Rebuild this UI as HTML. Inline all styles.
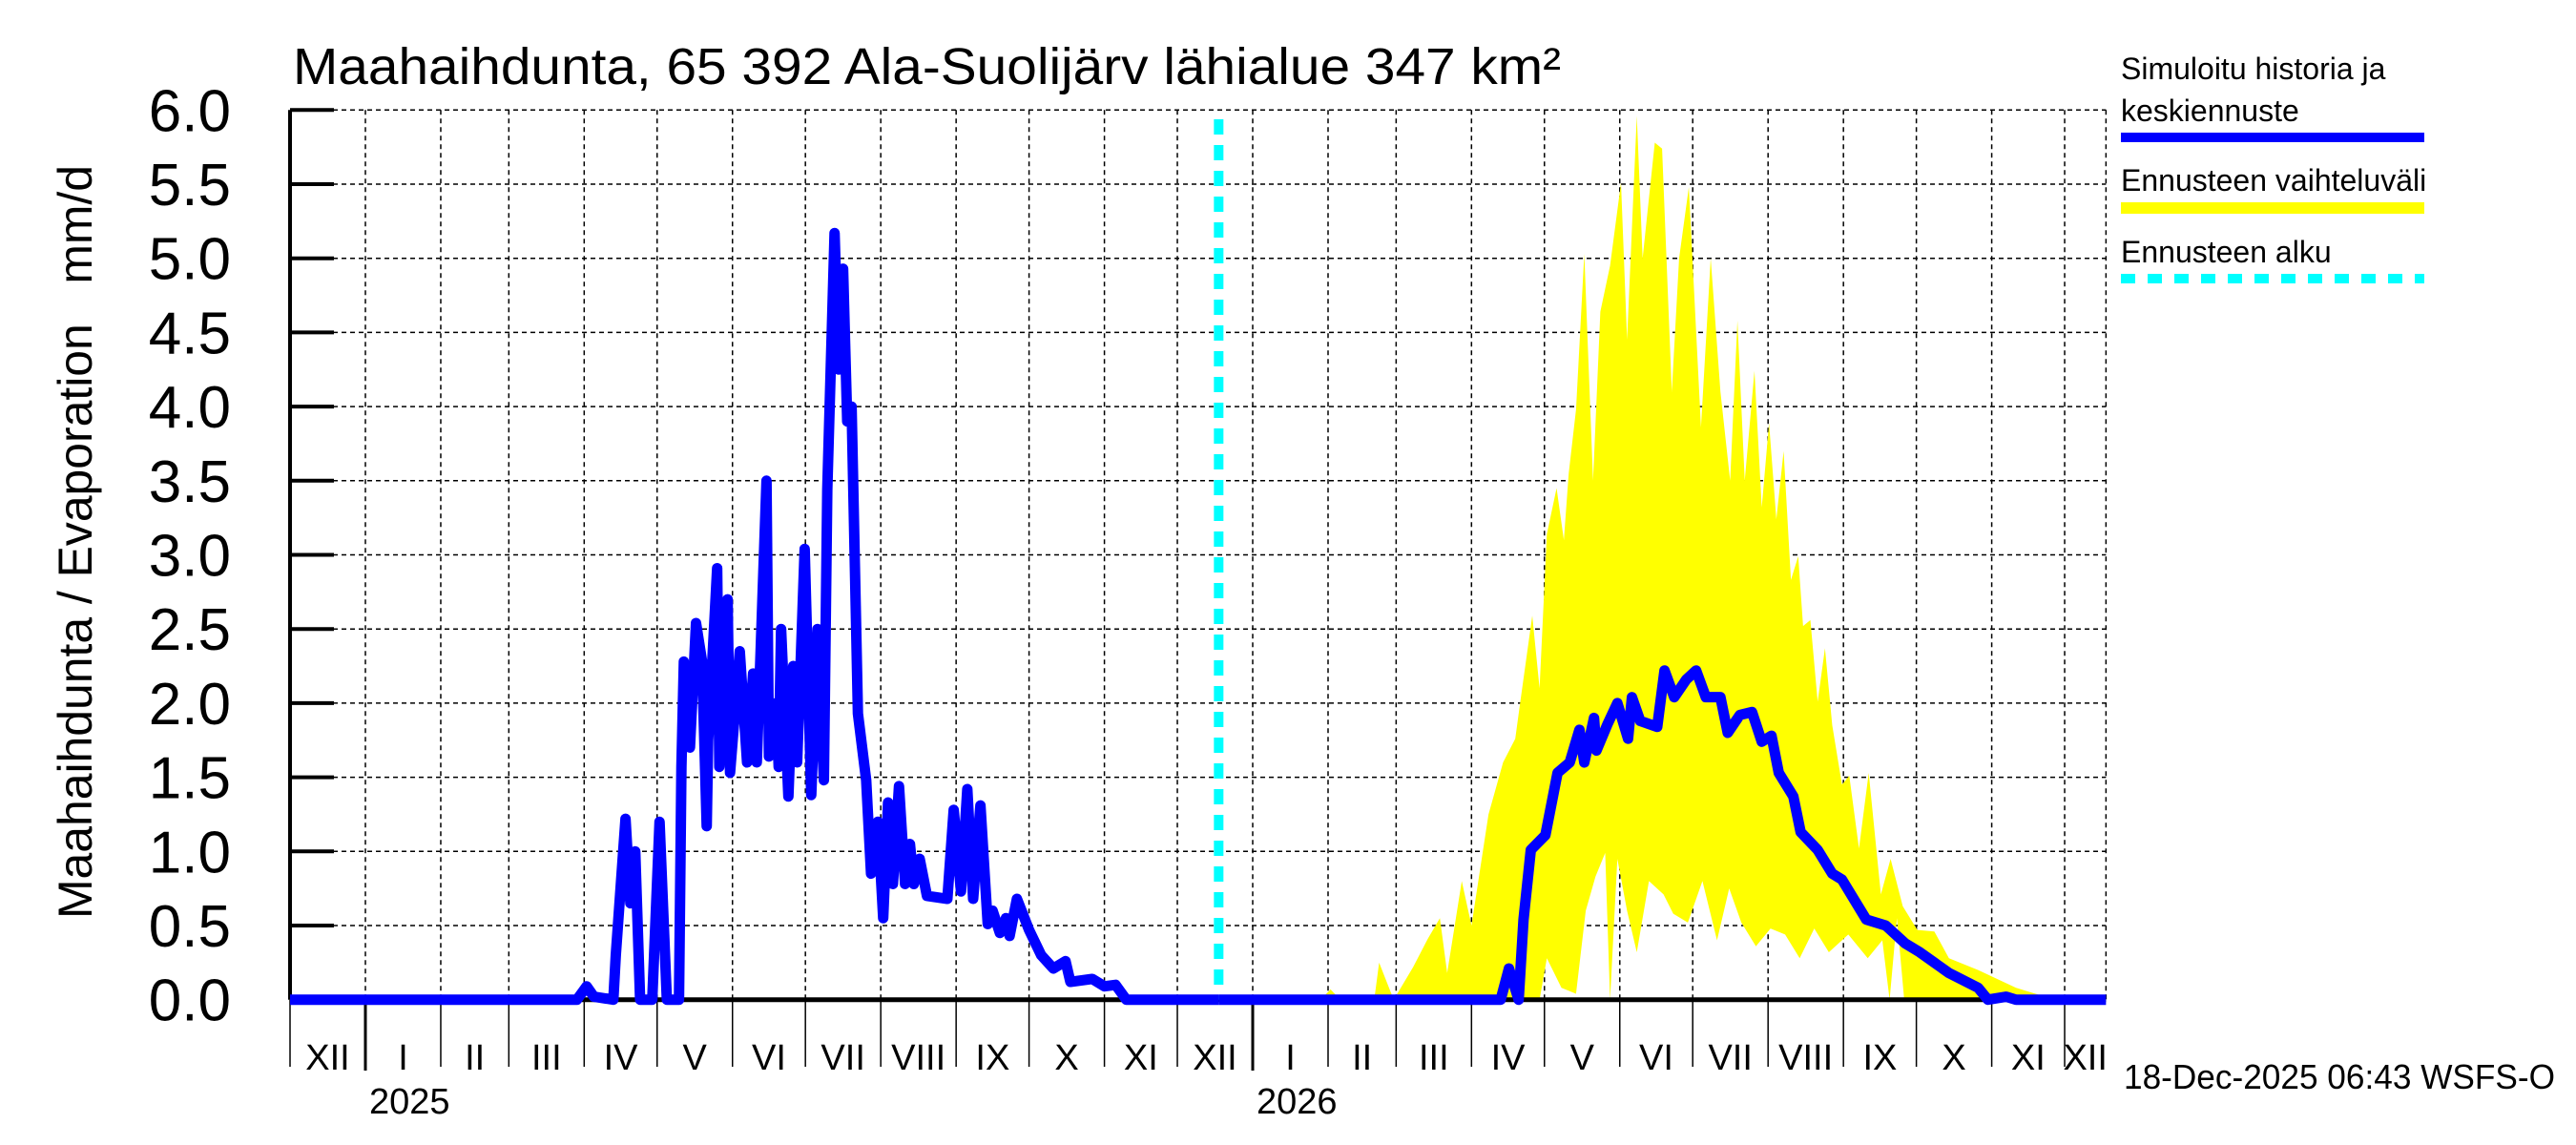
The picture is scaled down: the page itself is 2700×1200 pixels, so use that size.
<!DOCTYPE html>
<html><head><meta charset="utf-8"><style>
body{margin:0;background:#fff}
svg{display:block}
text{font-family:"Liberation Sans",sans-serif;fill:#000;white-space:pre}
</style></head><body>
<svg id="chart" width="2700" height="1200" viewBox="0 0 2700 1200" xmlns="http://www.w3.org/2000/svg">
<rect x="0" y="0" width="2700" height="1200" fill="#fff"/>
<g id="grid"></g>
<g id="band"></g>
<g id="axes"></g>
<g id="lines"></g>
<text x="307" y="88" font-size="54" textLength="1329" lengthAdjust="spacingAndGlyphs">Maahaihdunta, 65 392 Ala-Suolijärv lähialue 347 km²</text>
<text transform="translate(96,568) rotate(-90)" text-anchor="middle" font-size="50" textLength="790" lengthAdjust="spacingAndGlyphs">Maahaihdunta / Evaporation   mm/d</text>
<g>
<text x="2223" y="83" font-size="32">Simuloitu historia ja</text>
<text x="2223" y="127" font-size="32">keskiennuste</text>
<rect x="2223" y="139" width="318" height="10" fill="#0000ff"/>
<text x="2223" y="200" font-size="32">Ennusteen vaihteluväli</text>
<rect x="2223" y="212" width="318" height="12" fill="#ffff00"/>
<text x="2223" y="275" font-size="32">Ennusteen alku</text>
<line x1="2223" y1="292" x2="2541" y2="292" stroke="#00ffff" stroke-width="10" stroke-dasharray="15 13"/>
</g>
<text x="2226" y="1141" font-size="36" textLength="452" lengthAdjust="spacingAndGlyphs">18-Dec-2025 06:43 WSFS-O</text>
</svg>
<script>
const yTicks = [0,0.5,1,1.5,2,2.5,3,3.5,4,4.5,5,5.5,6];
const yTickLabels = ["0.0","0.5","1.0","1.5","2.0","2.5","3.0","3.5","4.0","4.5","5.0","5.5","6.0"];
const monthStarts = [0,31,62,90,121,151,182,212,243,274,304,335,365,396,427,455,486,516,547,577,608,639,669,700,730,747];
const monthLabels = ["XII","I","II","III","IV","V","VI","VII","VIII","IX","X","XI","XII","I","II","III","IV","V","VI","VII","VIII","IX","X","XI","XII"];
const yearDays = [31,396];
const yearLabels = ["2025","2026"];
const forecastStartDay = 382;
const histDays = [0,118,122,125,133,134,138,140,142,144,149,152,155,160,161,162,164.5,167,169.5,171.4,172,175.7,176.6,180,181,185,188,190.5,192,196,197,200,201,202,205,207,208.6,211.7,214.4,217,219.6,221,224,225.7,227.5,229.2,231,233.6,237,239,241.8,244,246,248,250.5,253,255,256.6,259,262,270.4,273,276,278.6,281,284,287,289,292,294.5,296,299,304,309,314,319,321,330,335,339.6,344,382];
const histVals = [0,0,0.09,0.02,0,0.3,1.22,0.65,1.0,0,0,1.2,0,0,1.57,2.28,1.7,2.54,2.28,1.17,1.75,2.91,1.57,2.7,1.53,2.35,1.6,2.2,1.6,3.5,1.64,2.0,1.57,2.5,1.37,2.25,1.6,3.04,1.38,2.5,1.48,3.44,5.17,4.25,4.93,3.9,4.0,1.93,1.48,0.85,1.2,0.55,1.33,0.78,1.44,0.78,1.05,0.78,0.95,0.7,0.68,1.28,0.73,1.42,0.68,1.31,0.51,0.6,0.45,0.55,0.43,0.68,0.47,0.3,0.21,0.26,0.12,0.14,0.09,0.1,0,0];
const medDays = [382,498,501.4,505.4,507.4,510.4,516.4,521.4,526.4,530.4,532.4,536.4,537.4,542,546,550.4,552,555.4,562.4,565.4,569.4,574.4,578.4,582.4,588.4,591.4,596.4,601.4,605.4,609.4,612.4,618.4,621.4,628.4,634.4,638.4,648.4,656.4,664.4,670.4,682.4,694.4,698.4,706,710,747];
const medVals = [0,0,0.21,0,0.54,1.01,1.11,1.53,1.6,1.82,1.6,1.9,1.68,1.86,2.0,1.76,2.04,1.88,1.84,2.22,2.04,2.16,2.22,2.04,2.04,1.8,1.92,1.94,1.74,1.78,1.53,1.37,1.13,1.01,0.85,0.81,0.54,0.5,0.38,0.32,0.18,0.08,0,0.02,0,0];
const maxDays = [382,424,428,432,446,448,454,462,468,473,476,482,486,493,499,504,506,511,514,517,521,524,526,529,532.4,536,539,543,547.5,550,554,556.4,561.4,564.4,568.4,571.4,575.4,580.4,584.4,588.4,592.4,595.4,598.4,602.4,605.4,608.4,611.4,614.4,617.4,620.4,622.4,625.4,628.4,631.4,634.4,638.4,641.4,645.4,649.4,654.4,658.4,663.4,669.4,676.4,682.4,694.4,710,726,747];
const maxVals = [0,0,0.07,0,0,0.25,0,0.22,0.41,0.55,0.18,0.8,0.5,1.25,1.6,1.76,2.0,2.59,2.1,3.14,3.45,3.1,3.55,3.98,5.03,3.5,4.64,4.95,5.51,4.45,5.96,5.0,5.78,5.74,4.1,5.0,5.48,3.86,5.0,4.1,3.5,4.58,3.5,4.24,3.32,3.89,3.24,3.7,2.83,2.99,2.52,2.56,2.01,2.37,1.85,1.45,1.51,1.02,1.53,0.71,0.95,0.63,0.47,0.46,0.28,0.2,0.08,0,0];
const minDays = [382,514,517,523,529,533,537,541,543,546,550,554,559,565,569,575,581,587,592,597,603,609,615,621,627,633,641,649,655,658,661,664,747];
const minVals = [0,0,0.28,0.08,0.04,0.6,0.83,0.99,0,0.95,0.6,0.32,0.8,0.71,0.58,0.52,0.8,0.4,0.75,0.52,0.36,0.48,0.44,0.28,0.48,0.32,0.44,0.28,0.4,0,0.55,0,0];

const NS = "http://www.w3.org/2000/svg";
const X0 = 304, DAYPX = 2.548, Y0 = 1047.7, VALPX = 155.4;
function xScale(d){ return X0 + d*DAYPX; }
function yScale(v){ return Y0 - v*VALPX; }
function mk(tag, attrs, parent){ const e = document.createElementNS(NS, tag); for (const k in attrs) e.setAttribute(k, attrs[k]); parent.appendChild(e); return e; }
const grid = document.getElementById('grid'), axes = document.getElementById('axes'), band = document.getElementById('band'), lines = document.getElementById('lines');
const xEnd = xScale(monthStarts[monthStarts.length-1]);

yTicks.forEach((v,i)=>{
  if (v > 0) {
    const g = mk('line',{x1:X0,y1:yScale(v),x2:xEnd,y2:yScale(v),stroke:'#000','stroke-width':1.5,'stroke-dasharray':'5 4'},grid);
    
    
  }
  const t = mk('line',{x1:X0,y1:yScale(v),x2:X0+46,y2:yScale(v),stroke:'#000','stroke-width':4},axes);
  
  
  const lb = mk('text',{x:242,y:yScale(v)+22,'text-anchor':'end','font-size':62},axes);
  lb.textContent = yTickLabels[i];
  
  
});
monthStarts.forEach((d,i)=>{
  const x = xScale(d);
  if (i>0) {
    const g = mk('line',{x1:x,y1:yScale(6),x2:x,y2:Y0,stroke:'#000','stroke-width':1.5,'stroke-dasharray':'5 4'},grid);
    
    
  }
  if (i < monthStarts.length-1) {
    const isYear = yearDays.indexOf(d) >= 0;
    const t = mk('line',{x1:x,y1:Y0,x2:x,y2:isYear?1122:1118,stroke:'#000','stroke-width':isYear?3:1.5},axes);
    
    
    const lb = mk('text',{x:(x+xScale(monthStarts[i+1]))/2,y:1121,'text-anchor':'middle','font-size':38},axes);
    lb.textContent = monthLabels[i];
    
    
  }
});
yearDays.forEach((d,i)=>{
  const lb = mk('text',{x:xScale(d)+4,y:1167,'font-size':38},axes);
  lb.textContent = yearLabels[i];
  
  
});
const ax = mk('line',{x1:X0,y1:yScale(6),x2:X0,y2:Y0,stroke:'#000','stroke-width':4},axes);


const bx = mk('line',{x1:X0,y1:Y0,x2:xEnd,y2:Y0,stroke:'#000','stroke-width':5},axes);



let pts = maxDays.map((d,i)=>xScale(d)+','+yScale(maxVals[i]));
for (let i=minDays.length-1;i>=0;i--) pts.push(xScale(minDays[i])+','+yScale(minVals[i]));
const poly = mk('polygon',{points:pts.join(' '),fill:'#ffff00',stroke:'none'},band);



const fs = mk('line',{x1:xScale(forecastStartDay),y1:125,x2:xScale(forecastStartDay),y2:Y0,stroke:'#00ffff','stroke-width':10,'stroke-dasharray':'16 11'},lines);



const h = mk('polyline',{points:histDays.map((d,i)=>xScale(d)+','+yScale(histVals[i])).join(' '),fill:'none',stroke:'#0000ff','stroke-width':11,'stroke-linejoin':'round'},lines);


const m = mk('polyline',{points:medDays.map((d,i)=>xScale(d)+','+yScale(medVals[i])).join(' '),fill:'none',stroke:'#0000ff','stroke-width':11,'stroke-linejoin':'round'},lines);


</script>
</body></html>
